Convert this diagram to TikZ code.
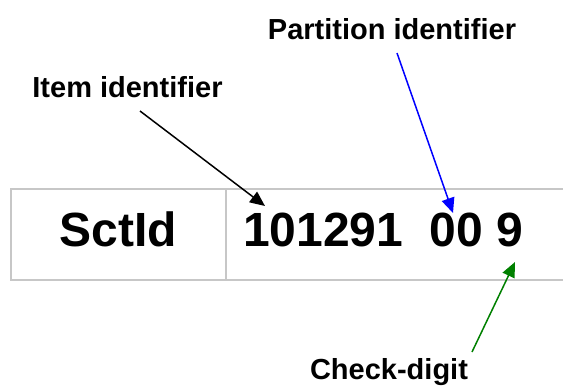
\documentclass[tikz,border=0pt]{standalone}
\usepackage{fontspec}
\setmainfont{Liberation Sans}
\usetikzlibrary{arrows.meta}
\begin{document}
\begin{tikzpicture}[x=1pt,y=-1pt,
  lbl/.style={font=\fontsize{29}{33}\selectfont\bfseries,inner sep=0pt,anchor=base},
  big/.style={font=\fontsize{48}{54}\selectfont\bfseries,inner sep=0pt},
  grid/.style={draw=black!22,line width=1.5pt},
  pointer/.style={line width=1.5pt,-{Triangle[length=15pt,width=13pt]}}]
\useasboundingbox (0,0) rectangle (563,386);
% table
\draw[grid] (563,189) -- (11,189) -- (11,280) -- (563,280);
\draw[grid] (226,189) -- (226,280);
\node[big,anchor=base] (sct) at (118.5,246) {SctId};
\node[big,anchor=base west] (num) at (243,246) {101291\ \ 00\ 9};
% labels
\node[lbl] (item) at (127.5,97) {Item identifier};
\node[lbl] (part) at (392,39) {Partition identifier};
\node[lbl] (chk) at (389,379) {Check-digit};
% connector ends
\coordinate (itemtail) at (140,111);
\coordinate (itemhead) at (265,206);
\coordinate (parttail) at (397,53);
\coordinate (parthead) at (453,213);
\coordinate (chktail) at (472,352);
\coordinate (chkhead) at (515,262);
\draw[pointer,black] (itemtail) -- (itemhead);
\draw[pointer,blue] (parttail) -- (parthead);
\draw[pointer,green!50!black] (chktail) -- (chkhead);
\end{tikzpicture}
\end{document}
